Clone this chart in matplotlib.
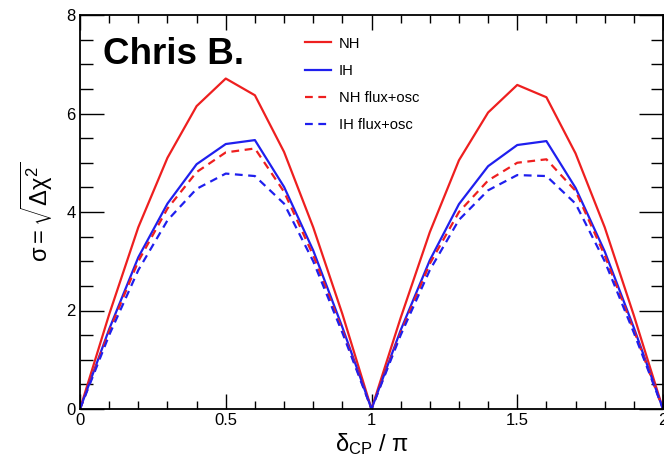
import matplotlib
matplotlib.use("Agg")
import matplotlib.pyplot as plt
from matplotlib.ticker import MultipleLocator

plt.rcParams['font.family'] = ['Liberation Sans', 'DejaVu Sans']
plt.rcParams['mathtext.fontset'] = 'custom'
plt.rcParams['mathtext.rm'] = 'Liberation Sans'
plt.rcParams['mathtext.it'] = 'Liberation Sans'
plt.rcParams['mathtext.sf'] = 'Liberation Sans'

delta_cp = [0.0, 0.1, 0.2, 0.3, 0.4, 0.5, 0.6, 0.7, 0.8, 0.9, 1.0,
            1.1, 1.2, 1.3, 1.4, 1.5, 1.6, 1.7, 1.8, 1.9, 2.0]
nh = [0.0, 1.92, 3.69, 5.10, 6.15, 6.71, 6.37, 5.22, 3.69, 1.93, 0.0,
      1.85, 3.59, 5.05, 6.02, 6.58, 6.33, 5.19, 3.69, 1.90, 0.0]
ih = [0.0, 1.62, 3.08, 4.17, 4.97, 5.38, 5.46, 4.51, 3.22, 1.66, 0.0,
      1.60, 3.02, 4.16, 4.93, 5.36, 5.44, 4.49, 3.20, 1.65, 0.0]
nh_fo = [0.0, 1.58, 3.00, 4.07, 4.81, 5.21, 5.29, 4.41, 3.12, 1.60, 0.0,
         1.55, 2.95, 4.00, 4.64, 5.00, 5.07, 4.43, 3.12, 1.60, 0.0]
ih_fo = [0.0, 1.50, 2.82, 3.83, 4.47, 4.78, 4.73, 4.17, 3.00, 1.55, 0.0,
         1.50, 2.82, 3.84, 4.44, 4.75, 4.73, 4.17, 3.00, 1.55, 0.0]

red = '#ee1f1f'
blue = '#1f1fee'

fig = plt.figure(figsize=(6.64, 4.55), dpi=100)
ax = fig.add_axes([80/664, 46/455, 583/664, 394/455])

ax.plot(delta_cp, nh, color=red, lw=1.6, label='NH')
ax.plot(delta_cp, ih, color=blue, lw=1.6, label='IH')
ax.plot(delta_cp, nh_fo, color=red, lw=1.6, ls=(0, (3.5, 2.5)), label='NH flux+osc')
ax.plot(delta_cp, ih_fo, color=blue, lw=1.6, ls=(0, (3.5, 2.5)), label='IH flux+osc')

ax.set_xlim(0, 2)
ax.set_ylim(0, 8)
ax.xaxis.set_minor_locator(MultipleLocator(0.1))
ax.yaxis.set_minor_locator(MultipleLocator(0.5))
ax.set_xticks([0, 0.5, 1, 1.5, 2])
ax.set_xticklabels(['0', '0.5', '1', '1.5', '2'])
ax.set_yticks([0, 2, 4, 6, 8])
ax.set_yticklabels(['0', '2', '4', '6', '8'])
ax.tick_params(which='both', direction='in', top=True, right=True, labelsize=12, pad=3)
ax.tick_params(axis='x', which='major', length=11, width=1)
ax.tick_params(axis='x', which='minor', length=6, width=1)
ax.tick_params(axis='y', which='major', length=17, width=1)
ax.tick_params(axis='y', which='minor', length=9, width=1)
for s in ax.spines.values():
    s.set_linewidth(1.3)

ax.set_xlabel(r'$\delta_{\mathrm{CP}}$ / $\pi$', fontsize=17, labelpad=2)
ax.set_ylabel(r'$\sigma = \sqrt{\Delta\chi^2}$', fontsize=17, labelpad=8)

ax.text(0.04, 0.90, 'Chris B.', transform=ax.transAxes, fontsize=26.5,
        fontweight='bold', ha='left', va='center')

ax.legend(loc='upper left', bbox_to_anchor=(0.375, 0.96), frameon=False,
          fontsize=10.6, handlelength=1.8, handletextpad=0.55, labelspacing=0.9,
          borderaxespad=0)

fig.savefig('out.png', dpi=100)
